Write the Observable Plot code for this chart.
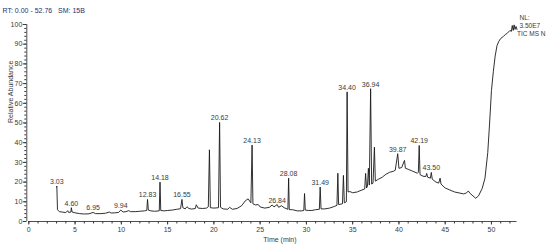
<!DOCTYPE html>
<html>
<head>
<meta charset="utf-8">
<script src="https://cdn.jsdelivr.net/npm/d3@7"></script>
<script src="https://cdn.jsdelivr.net/npm/@observablehq/plot@0.6"></script>
<style>
  html, body { margin: 0; padding: 0; background: #fff; }
  #chart { width: 550px; height: 250px; }
</style>
</head>
<body>
<div id="chart"></div>
<script>
// Retention time (min) of the trace points
const times = [
  3.00, 3.03, 3.10, 3.30, 3.60, 4.00, 4.20, 4.30, 4.55, 4.60, 4.68, 5.00, 5.50, 6.00, 6.50, 6.95, 7.20, 7.80,
  8.30, 8.70, 8.90, 9.30, 9.70, 9.94, 10.20, 10.50, 10.80, 11.00, 11.50, 12.00, 12.50, 12.75, 12.83, 12.92,
  13.20, 13.60, 14.10, 14.18, 14.26, 14.60, 15.00, 15.50, 16.00, 16.40, 16.55, 16.65, 16.90, 17.10, 17.30,
  17.60, 18.00, 18.10, 18.30, 18.80, 19.20, 19.40, 19.52, 19.62, 20.00, 20.50, 20.62, 20.72, 21.00, 21.50,
  21.70, 22.00, 22.50, 23.00, 23.40, 23.70, 24.00, 24.13, 24.22, 24.50, 24.80, 25.00, 25.50, 26.00, 26.30,
  26.50, 26.84, 27.00, 27.30, 27.60, 27.90, 28.00, 28.08, 28.15, 28.50, 29.00, 29.50, 29.72, 29.80, 29.88,
  30.20, 30.60, 31.00, 31.40, 31.49, 31.58, 32.00, 32.50, 33.00, 33.30, 33.40, 33.48, 33.90, 34.00, 34.10,
  34.32, 34.40, 34.50, 34.70, 35.00, 35.50, 36.00, 36.30, 36.40, 36.50, 36.60, 36.70, 36.80, 36.94, 37.05,
  37.20, 37.35, 37.45, 37.80, 38.20, 38.60, 39.00, 39.40, 39.60, 39.87, 40.00, 40.30, 40.60, 40.70, 41.00,
  41.50, 42.00, 42.10, 42.19, 42.28, 42.60, 42.90, 43.00, 43.10, 43.40, 43.50, 43.60, 44.00, 44.30, 44.45,
  44.55, 45.00, 45.50, 46.00, 46.50, 47.00, 47.30, 47.50, 47.70, 48.00, 48.30, 48.60, 49.00, 49.30, 49.60,
  49.80, 50.00, 50.20, 50.40, 50.60, 50.80, 51.00, 51.30, 51.50, 51.70, 52.00, 52.15, 52.25, 52.35, 52.45,
  52.55, 52.65, 52.76
];
// Relative abundance (%) at those times
const abundance = [
  17.5, 18.0, 6.0, 5.0, 4.8, 4.5, 5.5, 4.6, 4.8, 7.0, 4.8, 4.4, 4.0, 3.8, 3.9, 4.6, 4.0, 4.0,
  4.2, 4.8, 4.3, 4.4, 4.6, 5.8, 4.8, 5.0, 5.5, 5.0, 5.0, 5.2, 5.4, 5.6, 11.2, 5.8,
  5.4, 5.2, 5.4, 20.0, 5.6, 5.4, 5.6, 5.8, 6.2, 6.5, 11.2, 7.0, 6.4, 7.5, 6.6,
  6.3, 6.6, 8.5, 6.8, 6.6, 6.8, 7.5, 36.4, 7.0, 6.8, 7.0, 50.3, 7.2, 6.4, 6.2,
  7.2, 6.2, 6.6, 8.0, 10.5, 11.5, 9.5, 38.8, 9.0, 8.4, 8.6, 7.4, 6.8, 7.2, 8.4,
  7.4, 8.6, 7.2, 8.0, 7.0, 6.4, 6.2, 22.0, 6.0, 6.0, 5.4, 5.4, 5.6, 14.2, 5.8,
  5.6, 5.6, 6.0, 6.2, 17.5, 6.4, 6.4, 6.8, 7.6, 8.2, 24.5, 8.6, 9.0, 23.4, 9.5,
  10.0, 65.8, 15.0, 15.2, 14.6, 15.0, 16.0, 16.5, 24.4, 17.0, 18.0, 27.0, 18.5, 67.4, 19.0,
  19.5, 37.7, 20.5, 21.5, 22.5, 24.0, 25.0, 25.5, 26.0, 34.4, 27.0, 27.4, 31.0, 27.0, 26.5,
  25.5, 24.5, 25.0, 38.6, 23.8, 23.0, 22.8, 24.4, 22.5, 22.0, 24.9, 21.5, 20.0, 19.5, 22.0,
  19.0, 17.0, 16.0, 15.0, 14.5, 14.0, 14.5, 15.5, 14.2, 13.0, 11.8, 13.0, 16.8, 22.0, 35.0,
  50.0, 66.5, 76.0, 84.0, 89.3, 91.5, 92.9, 94.0, 94.9, 95.5, 97.0, 96.5, 99.5, 97.0, 99.8,
  97.5, 99.0, 97.5
];
// Labelled peaks
const peakTimes  = [3.03, 4.60, 6.95, 9.94, 12.83, 14.18, 16.55, 20.62, 24.13, 26.84, 28.08, 31.49, 34.40, 36.94, 39.87, 42.19, 43.50];
const peakTops   = [18.0, 7.0, 4.6, 5.8, 11.2, 20.0, 11.2, 50.3, 38.8, 8.6, 22.0, 17.5, 65.8, 67.4, 34.4, 38.6, 24.9];
const peakLabels = ["3.03", "4.60", "6.95", "9.94", "12.83", "14.18", "16.55", "20.62", "24.13", "26.84", "28.08", "31.49", "34.40", "36.94", "39.87", "42.19", "43.50"];
// Axis ticks
const xTicks = [0, 5, 10, 15, 20, 25, 30, 35, 40, 45, 50];
const yTicks = [0, 10, 20, 30, 40, 50, 60, 70, 80, 90, 100];
const xDomain = [0, 52.76];
const yDomain = [0, 100];
// Header / annotation texts
const headerText = "RT: 0.00 - 52.76   SM: 15B";
const nlLines = ["NL:", "3.50E7", "TIC MS N"];
const xLabel = "Time (min)";
const yLabel = "Relative Abundance";

const trace = times.map((t, i) => ({t, a: abundance[i]}));
const peaks = peakTimes.map((t, i) => ({t, a: peakTops[i], label: peakLabels[i]}));
const xMinor = d3.range(0, 53, 1);
const yMinor = d3.range(0, 101, 2);

const ink = "#3a3a3a";
const nlOffsets = [-9, -1, 7];
const nlShift = [2.5, 2.5, 0];
const chart = Plot.plot({
  width: 550,
  height: 250,
  marginLeft: 28.3,
  marginRight: 33.5,
  marginTop: 24,
  marginBottom: 29,
  x: {domain: xDomain},
  y: {domain: yDomain},
  style: {fontFamily: "'Liberation Sans', Arial, sans-serif", fontSize: "7px", color: ink, background: "#fff"},
  marks: [
    // axes
    Plot.ruleY([0], {stroke: ink, strokeWidth: 0.9}),
    Plot.ruleX([0], {stroke: ink, strokeWidth: 0.9, dx: -2}),
    Plot.axisX({ticks: xMinor, tickSize: 2.5, text: null, label: null, stroke: ink}),
    Plot.axisX({ticks: xTicks, tickSize: 3.5, tickPadding: 2, label: null, stroke: ink, fill: ink}),
    Plot.axisY({ticks: yMinor, tickSize: 2, text: null, label: null, dx: -2, stroke: ink}),
    Plot.axisY({ticks: yTicks, tickSize: 3.5, tickPadding: 1, label: null, dx: -2, stroke: ink, fill: ink}),
    // trace
    Plot.line(trace, {x: "t", y: "a", stroke: "#1a1a1a", strokeWidth: 0.9}),
    // peak labels
    Plot.text(peaks, {x: "t", y: "a", text: "label", lineAnchor: "bottom", dy: -2, fill: ink, fontSize: 7}),
    // axis titles
    Plot.text([xLabel], {frameAnchor: "bottom", dx: 7, dy: 20, fill: ink, fontSize: 7}),
    Plot.text([yLabel], {frameAnchor: "left", dx: -18, rotate: -90, fill: ink, fontSize: 7}),
    // header
    Plot.text([headerText], {frameAnchor: "top-left", dx: -26.3, dy: -16, textAnchor: "start", fill: "#2c2c70", fontSize: 7}),
    // NL annotation, one line per mark
    ...nlLines.map((line, i) =>
      Plot.text([line], {frameAnchor: "top-right", dx: nlShift[i], dy: nlOffsets[i], textAnchor: "start", fill: ink, fontSize: 6.5})
    )
  ]
});
document.getElementById("chart").appendChild(chart);
</script>
</body>
</html>
